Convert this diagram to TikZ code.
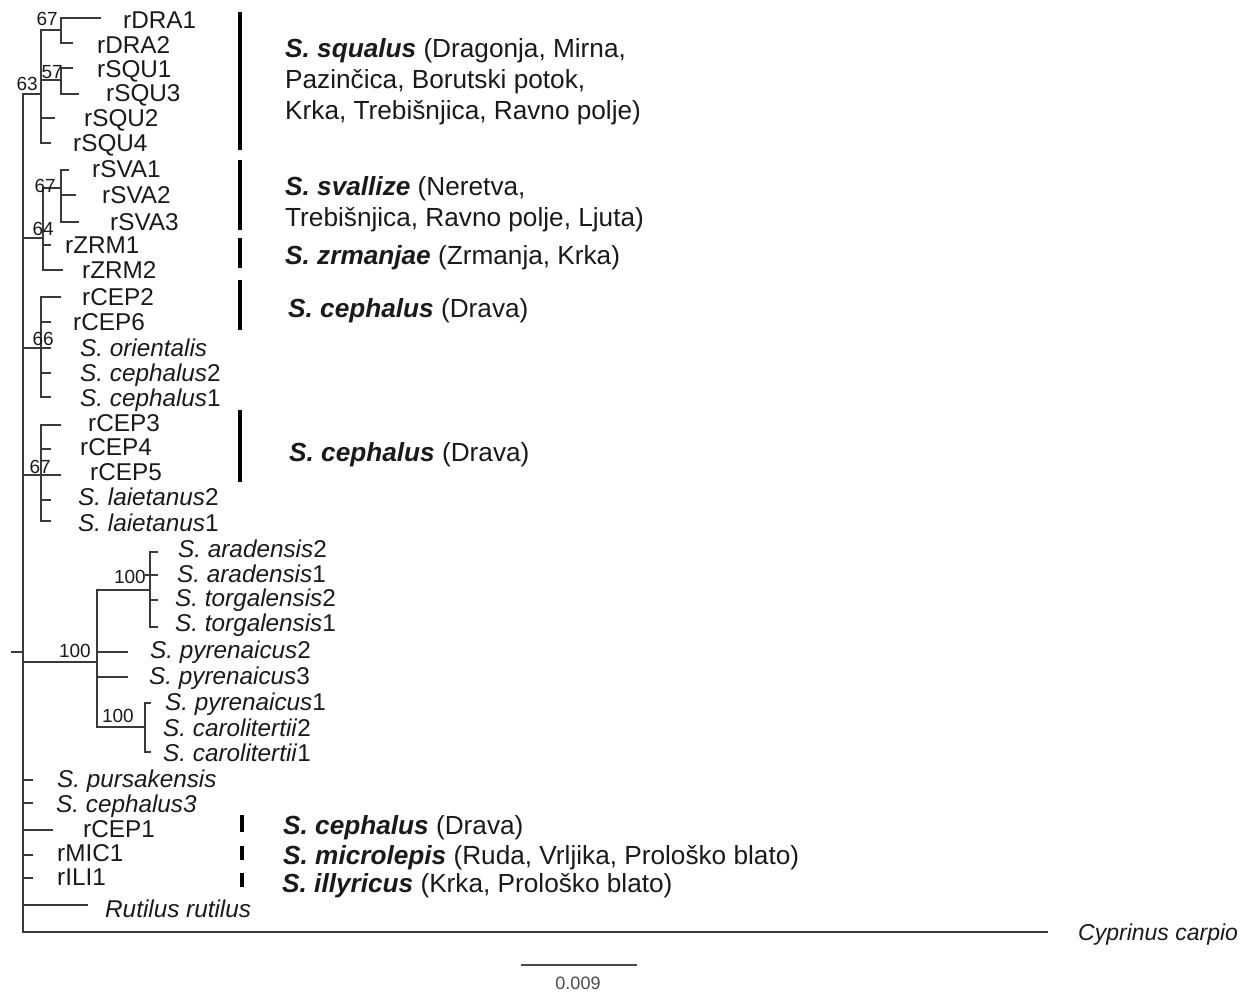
\documentclass[tikz,border=0pt]{standalone}
\usepackage{fontspec}
\setmainfont{Liberation Sans}
\definecolor{brc}{HTML}{3A3A3A}
\definecolor{txc}{HTML}{1A1A1A}
\definecolor{scc}{HTML}{4A4A4A}
\begin{document}
\begin{tikzpicture}[x=1pt,y=-1pt,
  br/.style={line width=2pt, draw=brc, line cap=rect},
  tip/.style={anchor=base west, inner sep=0pt, font=\fontsize{24.3}{28}\selectfont, text=txc},
  bs/.style={anchor=base east, inner sep=0pt, font=\fontsize{19}{22}\selectfont, text=txc},
  grp/.style={anchor=base west, inner sep=0pt, font=\fontsize{26.2}{30}\selectfont, text=txc},
  gbar/.style={line width=3.5pt, draw=black},
]
\fill[white] (0,0) rectangle (1245,994);
\useasboundingbox (0,0) rectangle (1245,994);

% root and outgroup
\draw[br] (12,652) -- (23,652);
\draw[br] (23,94) -- (23,932) -- (1047,932);
\node[tip, font=\fontsize{23}{28}\selectfont] (cyp) at (1078,940) {\textit{Cyprinus carpio}};

% clade A: DRA / SQU
\draw[br] (23,94) -- (41,94);
\draw[br] (41,30) -- (41,143);
\draw[br] (41,30) -- (61,30);
\draw[br] (61,18) -- (61,43);
\draw[br] (61,18) -- (100,18);
\draw[br] (61,43) -- (72,43);
\draw[br] (41,80) -- (61,80);
\draw[br] (61,68) -- (61,94);
\draw[br] (61,68) -- (72,68);
\draw[br] (61,94) -- (78,94);
\draw[br] (41,118) -- (54,118);
\draw[br] (41,143) -- (50,143);
\node[tip] (dra1) at (123,28) {rDRA1};
\node[tip] (dra2) at (97,53) {rDRA2};
\node[tip] (squ1) at (97,77) {rSQU1};
\node[tip] (squ3) at (106,101) {rSQU3};
\node[tip] (squ2) at (84,126) {rSQU2};
\node[tip] (squ4) at (73,151) {rSQU4};
\node[bs] (b67a) at (58,25) {67};
\node[bs] (b63) at (38,90) {63};
\node[bs] (b57) at (63,78) {57};

% clade B: SVA / ZRM
\draw[br] (23,238) -- (43,238);
\draw[br] (43,188) -- (43,270);
\draw[br] (43,188) -- (61,188);
\draw[br] (61,170) -- (61,222);
\draw[br] (61,170) -- (68,170);
\draw[br] (61,195) -- (75,195);
\draw[br] (61,222) -- (78,222);
\draw[br] (43,245) -- (50,245);
\draw[br] (43,270) -- (62,270);
\node[tip] (sva1) at (92,177) {rSVA1};
\node[tip] (sva2) at (102,203.5) {rSVA2};
\node[tip] (sva3) at (110,230.5) {rSVA3};
\node[tip] (zrm1) at (65,253.5) {rZRM1};
\node[tip] (zrm2) at (82,278) {rZRM2};
\node[bs] (b67b) at (56,192) {67};
\node[bs] (b64) at (54,235) {64};

% clade C
\draw[br] (23,348) -- (50,348);
\draw[br] (41,297) -- (41,397);
\draw[br] (41,297) -- (60,297);
\draw[br] (41,322) -- (50,322);
\draw[br] (41,373) -- (50,373);
\draw[br] (41,397) -- (50,397);
\node[tip] (cep2) at (82,305) {rCEP2};
\node[tip] (cep6) at (73,330) {rCEP6};
\node[tip] (ori) at (80,356) {\textit{S. orientalis}};
\node[tip] (ceph2) at (80,381) {\textit{S. cephalus}2};
\node[tip] (ceph1) at (80,406) {\textit{S. cephalus}1};
\node[bs] (b66) at (54,345) {66};

% clade D
\draw[br] (23,475) -- (60,475);
\draw[br] (41,425) -- (41,521);
\draw[br] (41,425) -- (60,425);
\draw[br] (41,449) -- (50,449);
\draw[br] (41,500) -- (50,500);
\draw[br] (41,521) -- (50,521);
\node[tip] (cep3) at (88,431) {rCEP3};
\node[tip] (cep4) at (80,455) {rCEP4};
\node[tip] (cep5) at (90,480) {rCEP5};
\node[tip] (lai2) at (78,505.5) {\textit{S. laietanus}2};
\node[tip] (lai1) at (78,531.5) {\textit{S. laietanus}1};
\node[bs] (b67c) at (51,473) {67};

% clade E: Iberian
\draw[br] (23,662) -- (97,662);
\draw[br] (97,590) -- (97,727);
\draw[br] (97,590) -- (150,590);
\draw[br] (150,552) -- (150,627);
\draw[br] (150,552) -- (157,552);
\draw[br] (146,575) -- (157,575);
\draw[br] (150,600) -- (157,600);
\draw[br] (150,627) -- (157,627);
\draw[br] (97,652) -- (127,652);
\draw[br] (97,677) -- (127,677);
\draw[br] (97,727) -- (145,727);
\draw[br] (145,703) -- (145,752);
\draw[br] (145,703) -- (150,703);
\draw[br] (145,752) -- (150,752);
\node[tip] (ara2) at (178,557) {\textit{S. aradensis}2};
\node[tip] (ara1) at (177,582) {\textit{S. aradensis}1};
\node[tip] (tor2) at (175,606) {\textit{S. torgalensis}2};
\node[tip] (tor1) at (175,631) {\textit{S. torgalensis}1};
\node[tip] (pyr2) at (150,658) {\textit{S. pyrenaicus}2};
\node[tip] (pyr3) at (149,684) {\textit{S. pyrenaicus}3};
\node[tip] (pyr1) at (165,710) {\textit{S. pyrenaicus}1};
\node[tip] (car2) at (163,736) {\textit{S. carolitertii}2};
\node[tip] (car1) at (163,761) {\textit{S. carolitertii}1};
\node[bs] (b100a) at (91,657) {100};
\node[bs] (b100b) at (146,583) {100};
\node[bs] (b100c) at (134,722) {100};

% bottom tips
\draw[br] (23,780) -- (32,780);
\draw[br] (23,803) -- (32,803);
\draw[br] (23,830) -- (52,830);
\draw[br] (23,855) -- (32,855);
\draw[br] (23,878) -- (32,878);
\draw[br] (23,905) -- (87,905);
\node[tip] (pur) at (57,787) {\textit{S. pursakensis}};
\node[tip] (ceph3) at (56,812) {\textit{S. cephalus3}};
\node[tip] (cep1) at (83,837) {rCEP1};
\node[tip] (mic1) at (57,861.5) {rMIC1};
\node[tip] (ili1) at (57,885.5) {rILI1};
\node[tip] (rut) at (105,917) {\textit{Rutilus rutilus}};

% group bars
\draw[gbar] (240,12) -- (240,150);
\draw[gbar] (240,160) -- (240,230);
\draw[gbar] (240,238) -- (240,268);
\draw[gbar] (240,280) -- (240,330);
\draw[gbar] (240,410) -- (240,482);
\draw[gbar, line width=4pt] (242,815) -- (242,832);
\draw[gbar] (242,846) -- (242,860);
\draw[gbar] (242,873) -- (242,887);

% group labels
\node[grp] (g1a) at (285,57) {\textbf{\textit{S. squalus}} (Dragonja, Mirna,};
\node[grp] (g1b) at (285,88) {Pazinčica, Borutski potok,};
\node[grp] (g1c) at (285,119) {Krka, Trebišnjica, Ravno polje)};
\node[grp] (g2a) at (285,195) {\textbf{\textit{S. svallize}} (Neretva,};
\node[grp] (g2b) at (285,226) {Trebišnjica, Ravno polje, Ljuta)};
\node[grp] (g3) at (285,264) {\textbf{\textit{S. zrmanjae}} (Zrmanja, Krka)};
\node[grp] (g4) at (288,317) {\textbf{\textit{S. cephalus}} (Drava)};
\node[grp] (g5) at (289,461) {\textbf{\textit{S. cephalus}} (Drava)};
\node[grp] (g6) at (283,834) {\textbf{\textit{S. cephalus}} (Drava)};
\node[grp] (g7) at (283,864) {\textbf{\textit{S. microlepis}} (Ruda, Vrljika, Prološko blato)};
\node[grp] (g8) at (282,892) {\textbf{\textit{S. illyricus}} (Krka, Prološko blato)};

% scale bar
\coordinate (sc1) at (521,965);
\coordinate (sc2) at (637,965);
\draw[line width=2pt, draw=scc] (sc1) -- (sc2);
\node[inner sep=0pt, font=\fontsize{18}{21}\selectfont, text=scc] (scl) at (578,983) {0.009};
\end{tikzpicture}
\end{document}
